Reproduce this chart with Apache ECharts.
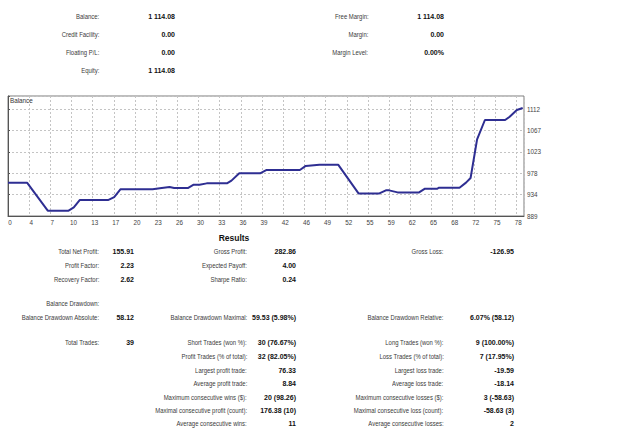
<!DOCTYPE html>
<html>
<head>
<meta charset="utf-8">
<script src="https://cdn.jsdelivr.net/npm/echarts@6/dist/echarts.min.js"></script>
<style>
  html, body { margin: 0; padding: 0; background: #fff; }
  #page { position: relative; width: 625px; height: 434px; overflow: hidden; }
  #balanceChart { position: absolute; left: 0; top: 0; width: 625px; height: 434px; }
  .t { position: absolute; height: 10px; line-height: 10px; white-space: nowrap; text-align: right;
       font-family: "Liberation Sans", Arial, sans-serif; }
  .lbl { font-size: 7px; color: #3a3a3a; transform: scaleX(0.85); transform-origin: right center; }
  .val { font-size: 7px; font-weight: bold; color: #111; }
  .head { font-size: 8.5px; font-weight: bold; color: #111; text-align: center; }
</style>
</head>
<body>
<div id="page">
  <div id="balanceChart"></div>
</div>
<script>
  // balance curve, vertices (x = deal number)
  var dealX = [0, 2.95, 6.1, 9.3, 10.1, 11.0, 15.35, 16.3, 17.25, 22.2, 23.3, 24.8, 25.5, 27.6, 28.5, 29.4,
               30.5, 33.6, 34.3, 35.5, 38.7, 39.7, 44.8, 45.7, 47.8, 50.7, 53.8, 57.0, 58.0, 58.5, 59.8,
               63.1, 64.0, 65.9, 66.1, 69.3, 70.3, 71.0, 72.0, 73.2, 76.3, 77.0, 78.1, 79.0];
  var balance = [958.17, 958.17, 900.05, 900.05, 906.8, 922.1, 922.1, 928.3, 944.5, 944.5, 946.6, 949.3, 947.2, 947.2, 954.3, 954.3,
                 957.0, 957.0, 962.7, 978.0, 978.0, 984.9, 984.9, 993.3, 995.6, 995.6, 936.1, 936.1, 942.4, 942.4, 938.2,
                 938.2, 945.9, 945.9, 948.0, 948.0, 958.5, 968.1, 1048.5, 1089.0, 1089.0, 1095.9, 1109.9, 1114.08];
  var xTickLabels = ['0','4','7','10','13','17','20','23','26','30','33','36','39','42','46','49','52','55','59','62','65','68','72','75','78'];
  var yTickLabels = ['889','934','978','1023','1067','1112'];

  // account summary
  var accountLabels = ['Balance:', 'Credit Facility:', 'Floating P/L:', 'Equity:'];
  var accountValues = ['1 114.08', '0.00', '0.00', '1 114.08'];
  var marginLabels = ['Free Margin:', 'Margin:', 'Margin Level:'];
  var marginValues = ['1 114.08', '0.00', '0.00%'];

  // results table, one entry per row ('' = empty cell)
  var colALabels = ['Total Net Profit:', 'Profit Factor:', 'Recovery Factor:', 'Balance Drawdown:', 'Balance Drawdown Absolute:', 'Total Trades:', '', '', '', '', '', ''];
  var colAValues = ['155.91', '2.23', '2.62', '', '58.12', '39', '', '', '', '', '', ''];
  var colBLabels = ['Gross Profit:', 'Expected Payoff:', 'Sharpe Ratio:', '', 'Balance Drawdown Maximal:', 'Short Trades (won %):',
                    'Profit Trades (% of total):', 'Largest profit trade:', 'Average profit trade:', 'Maximum consecutive wins ($):',
                    'Maximal consecutive profit (count):', 'Average consecutive wins:'];
  var colBValues = ['282.86', '4.00', '0.24', '', '59.53 (5.98%)', '30 (76.67%)', '32 (82.05%)', '76.33', '8.84', '20 (98.26)', '176.38 (10)', '11'];
  var colCLabels = ['Gross Loss:', '', '', '', 'Balance Drawdown Relative:', 'Long Trades (won %):',
                    'Loss Trades (% of total):', 'Largest loss trade:', 'Average loss trade:', 'Maximum consecutive losses ($):',
                    'Maximal consecutive loss (count):', 'Average consecutive losses:'];
  var colCValues = ['-126.95', '', '', '', '6.07% (58.12)', '9 (100.00%)', '7 (17.95%)', '-19.59', '-18.14', '3 (-58.63)', '-58.63 (3)', '2'];

  // layout
  var page = document.getElementById('page');
  function put(text, cls, right, yc) {
    if (!text) return;
    var d = document.createElement('div');
    d.className = 't ' + cls;
    d.textContent = text;
    d.style.right = (625 - right) + 'px';
    d.style.top = (yc - 5) + 'px';
    page.appendChild(d);
  }
  var accY = [16.7, 35, 53.3, 71];
  accountLabels.forEach(function (s, i) { put(s, 'lbl', 99, accY[i]); put(accountValues[i], 'val', 175, accY[i]); });
  marginLabels.forEach(function (s, i) { put(s, 'lbl', 368.5, accY[i]); put(marginValues[i], 'val', 444, accY[i]); });

  var head = document.createElement('div');
  head.className = 't head';
  head.textContent = 'Results';
  head.style.left = '204px'; head.style.width = '60px'; head.style.top = '233px';
  page.appendChild(head);

  var rowY = [252.3, 265.7, 279.7, 304, 318, 343.3, 357.3, 370.7, 384, 397.7, 411.3, 424.3];
  rowY.forEach(function (y, i) {
    put(colALabels[i], 'lbl', 99, y);  put(colAValues[i], 'val', 134, y);
    put(colBLabels[i], 'lbl', 247, y); put(colBValues[i], 'val', 296, y);
    put(colCLabels[i], 'lbl', 443.5, y); put(colCValues[i], 'val', 514, y);
  });

  // chart
  var xStep = 3.25, yMin = 889, yStep = 44.45;
  var myChart = echarts.init(document.getElementById('balanceChart'), null, { renderer: 'svg' });
  var points = dealX.map(function (x, i) { return [x, balance[i]]; });
  var gridLine = { show: true, lineStyle: { color: '#c4c4c4', type: [2, 2], width: 1 } };
  var option = {
    animation: false,
    title: {
      text: 'Balance', left: 10, top: 97, padding: 0,
      textStyle: { fontSize: 6.3, fontWeight: 'normal', color: '#333', fontFamily: 'Liberation Sans' }
    },
    grid: { left: 8, top: 96, width: 516, height: 120, show: true, borderColor: '#7c7c7c', borderWidth: 1 },
    xAxis: {
      type: 'value', min: 0, max: 79.2, interval: xStep,
      axisLine: { show: true, lineStyle: { color: '#555' } },
      axisTick: { show: false },
      splitLine: gridLine,
      axisLabel: {
        fontSize: 6.3, color: '#444', margin: 3, fontFamily: 'Liberation Sans', padding: [0, 0, 0, 4],
        formatter: function (v) {
          var k = Math.round(v / xStep);
          if (Math.abs(v / xStep - k) > 0.01) return '';
          return xTickLabels[k] || '';
        }
      }
    },
    yAxis: {
      type: 'value', position: 'right', min: yMin, max: 1139, interval: yStep,
      axisLine: { show: true, lineStyle: { color: '#555' } },
      axisTick: { show: true, length: 2, lineStyle: { color: '#555' } },
      splitLine: gridLine,
      axisLabel: {
        fontSize: 6.3, color: '#444', margin: 3, fontFamily: 'Liberation Sans',
        formatter: function (v) {
          var k = Math.round((v - yMin) / yStep);
          if (Math.abs((v - yMin) / yStep - k) > 0.01) return '';
          return yTickLabels[k] || '';
        }
      }
    },
    series: [{
      type: 'line',
      data: points,
      showSymbol: false,
      lineStyle: { color: '#2e2e92', width: 2 },
      silent: true
    }]
  };
  myChart.setOption(option);
</script>
</body>
</html>
